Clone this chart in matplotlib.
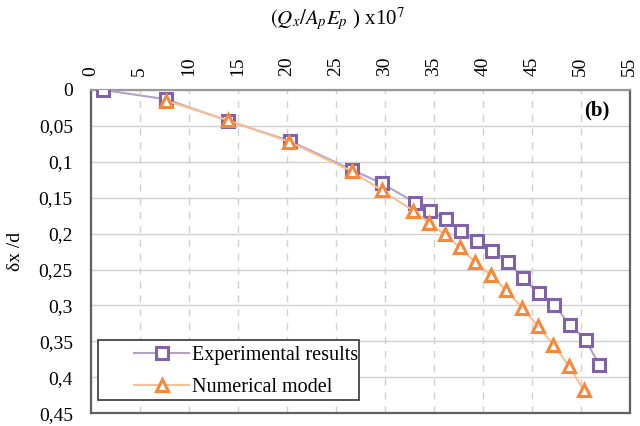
import numpy as np
import matplotlib.pyplot as plt
from matplotlib.patches import Rectangle

plt.rcParams['font.family'] = 'Liberation Serif'
plt.rcParams['mathtext.fontset'] = 'stix'

# load ratio (x1e7) and normalised displacement
exp_x = [1.2, 7.65, 14.0, 20.3, 26.6, 29.7, 33.1, 34.6, 36.2, 37.8, 39.4, 40.95,
         42.6, 44.1, 45.7, 47.3, 48.9, 50.5, 51.9]
exp_y = [0.0, 0.013, 0.043, 0.071, 0.111, 0.130, 0.157, 0.168, 0.180, 0.197, 0.210,
         0.224, 0.239, 0.262, 0.283, 0.300, 0.327, 0.348, 0.383]

num_x = [7.65, 13.95, 20.2, 26.6, 29.7, 32.9, 34.5, 36.1, 37.65, 39.25, 40.8,
         42.4, 44.0, 45.6, 47.2, 48.8, 50.3]
num_y = [0.015, 0.042, 0.072, 0.113, 0.140, 0.168, 0.185, 0.201, 0.219, 0.240,
         0.258, 0.279, 0.303, 0.328, 0.355, 0.384, 0.418]

fig = plt.figure(figsize=(6.4, 4.26), dpi=100)
ax = fig.add_axes([0.142, 0.030, 0.842, 0.759])

ax.plot(exp_x, exp_y, color='#B3A2C7', lw=1.5, marker='s', ms=8,
        mfc='white', mec='#7F62A8', mew=2.2, label='Experimental results', zorder=3)
ax.plot(num_x, num_y, color='#FAC090', lw=1.5, marker='^', ms=8.5,
        mfc='white', mec='#F7883A', mew=2.2, label='Numerical model', zorder=4)

ax.set_xlim(0, 55)
ax.set_ylim(0.45, 0)
ax.set_xticks(np.arange(0, 56, 5))
ax.set_yticks(np.arange(0, 0.451, 0.05))
ax.set_yticklabels([('%.2f' % v).rstrip('0').rstrip('.').replace('.', ',') for v in np.arange(0, 0.451, 0.05)])
ax.xaxis.tick_top()
ax.tick_params(axis='x', labelrotation=90, labelsize=14, length=0, pad=10)
ax.tick_params(axis='y', labelsize=14, length=0, pad=13)

ax.xaxis.grid(True, color='#D0D0D0', ls=(0, (5, 5)), lw=1)
ax.yaxis.grid(True, color='#D0D0D0', ls='-', lw=1)
ax.set_axisbelow(True)
for s in ax.spines.values():
    s.set_color('#606060')
    s.set_linewidth(1.6)
ax.spines['top'].set_color('#999999')

fig.text(0.527, 0.955, r'$(Q_x/A_pE_p$ ) x10$^7$', ha='center', va='center', fontsize=15)
fig.text(0.025, 0.41, 'δx /d', rotation=90, ha='center', va='center', fontsize=14)
ax.text(0.963, 0.935, '(b)', transform=ax.transAxes, ha='right', va='center',
        fontsize=15, fontweight='bold')

# legend box drawn separately so the entries can sit indented inside it
ax.add_patch(Rectangle((0.013, 0.040), 0.484, 0.186, transform=ax.transAxes,
                       facecolor='white', edgecolor='#444444', lw=1.3, zorder=5))
leg = ax.legend(loc='upper left', bbox_to_anchor=(0.080, 0.207), fontsize=14.5,
                frameon=False, handlelength=2.75, borderpad=0, borderaxespad=0,
                labelspacing=0.6, handletextpad=0.15)
leg.set_zorder(6)

fig.savefig('out.png', dpi=100)
